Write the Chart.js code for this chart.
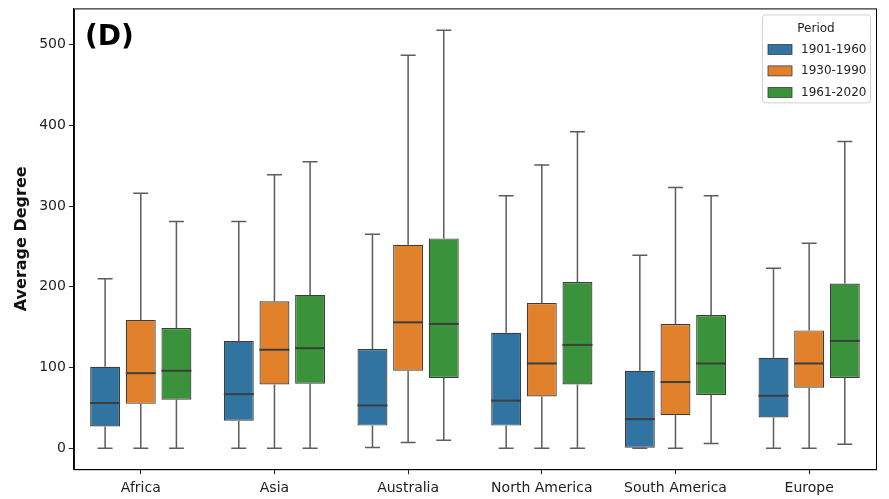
<!DOCTYPE html>
<html>
<head>
<meta charset="utf-8">
<script src="https://cdn.jsdelivr.net/npm/chart.js@4"></script>
<style>
  html, body { margin: 0; padding: 0; background: #fff; overflow: hidden; }
  #wrap { width: 889px; height: 499px; overflow: hidden; }
  #boxChart { display: block; margin-top: -3px; }
</style>
</head>
<body>
<div id="wrap"><canvas id="boxChart" width="889" height="508"></canvas></div>
<script>
const continents = ['Africa', 'Asia', 'Australia', 'North America', 'South America', 'Europe'];
const periods = ['1901-1960', '1930-1990', '1961-2020'];
const colors = ['#3274a1', '#e1812c', '#3a923a'];
const yTicks = [0, 100, 200, 300, 400, 500];

// box stats, one array per statistic and period
const min1901 = [0, 0, 1, 0, 0, 0];
const q1_1901 = [27, 34, 28, 28, 0, 38];
const med1901 = [56, 67, 53, 59, 36, 65];
const q3_1901 = [101, 133, 123, 143, 96, 112];
const max1901 = [210, 281, 265, 313, 239, 223];

const min1930 = [0, 0, 7, 0, 0, 0];
const q1_1930 = [55, 79, 96, 64, 41, 75];
const med1930 = [93, 122, 156, 105, 82, 105];
const q3_1930 = [159, 182, 252, 180, 154, 146];
const max1930 = [316, 339, 487, 351, 323, 254];

const min1961 = [0, 0, 10, 0, 6, 5];
const q1_1961 = [60, 80, 87, 79, 66, 87];
const med1961 = [96, 124, 154, 128, 105, 133];
const q3_1961 = [149, 190, 260, 206, 165, 204];
const max1961 = [281, 355, 518, 392, 313, 380];

const stats = [
  { min: min1901, q1: q1_1901, med: med1901, q3: q3_1901, max: max1901 },
  { min: min1930, q1: q1_1930, med: med1930, q3: q3_1930, max: max1930 },
  { min: min1961, q1: q1_1961, med: med1961, q3: q3_1961, max: max1961 }
];

const FONT = "'DejaVu Sans', sans-serif";

// whiskers, caps, medians, frame, panel letter and legend
const boxPlugin = {
  id: 'boxExtras',
  afterDatasetsDraw(chart) {
    const ctx = chart.ctx;
    const y = chart.scales.y;
    ctx.save();
    chart.data.datasets.forEach((ds, i) => {
      const s = stats[i];
      chart.getDatasetMeta(i).data.forEach((bar, j) => {
        const x = bar.x, w = bar.width;
        const pMin = y.getPixelForValue(s.min[j]);
        const pQ1 = y.getPixelForValue(s.q1[j]);
        const pQ3 = y.getPixelForValue(s.q3[j]);
        const pMax = y.getPixelForValue(s.max[j]);
        const pMed = y.getPixelForValue(s.med[j]);
        ctx.strokeStyle = '#5c5c5c';
        ctx.lineWidth = 1.5;
        ctx.beginPath();
        ctx.moveTo(x, pQ3); ctx.lineTo(x, pMax);
        ctx.moveTo(x, pQ1); ctx.lineTo(x, pMin);
        ctx.moveTo(x - w / 4, pMax); ctx.lineTo(x + w / 4, pMax);
        ctx.moveTo(x - w / 4, pMin); ctx.lineTo(x + w / 4, pMin);
        ctx.stroke();
        ctx.strokeStyle = '#3d3d3d';
        ctx.lineWidth = 2;
        ctx.beginPath();
        ctx.moveTo(x - w / 2, pMed); ctx.lineTo(x + w / 2, pMed);
        ctx.stroke();
      });
    });
    ctx.restore();
  },
  afterDraw(chart) {
    const ctx = chart.ctx;
    const a = chart.chartArea;
    ctx.save();
    // frame
    ctx.strokeStyle = '#000';
    ctx.lineWidth = 1;
    ctx.strokeRect(a.left + 0.5, a.top + 0.5, a.right - a.left, a.bottom - a.top);
    // panel letter
    ctx.fillStyle = '#000';
    ctx.font = 'bold 28px ' + FONT;
    ctx.textBaseline = 'alphabetic';
    ctx.textAlign = 'left';
    ctx.fillText('(D)', a.left + 11, a.top + 37);
    // legend
    const lx = a.right - 114, ly = a.top + 6, lw = 108, lh = 88;
    ctx.fillStyle = 'rgba(255,255,255,0.8)';
    ctx.strokeStyle = '#d0d0d0';
    ctx.beginPath();
    ctx.roundRect(lx + 0.5, ly + 0.5, lw, lh, 3);
    ctx.fill();
    ctx.stroke();
    ctx.fillStyle = '#222';
    ctx.font = '12px ' + FONT;
    ctx.textAlign = 'center';
    ctx.textBaseline = 'middle';
    ctx.fillText('Period', lx + lw / 2, ly + 14);
    ctx.textAlign = 'left';
    periods.forEach((p, i) => {
      const ry = ly + 35 + i * 21.5;
      ctx.fillStyle = colors[i];
      ctx.fillRect(lx + 6, ry - 5, 24, 10);
      ctx.strokeStyle = '#3d3d3d';
      ctx.lineWidth = 0.8;
      ctx.strokeRect(lx + 6, ry - 5, 24, 10);
      ctx.fillStyle = '#222';
      ctx.fillText(p, lx + 39, ry);
    });
    ctx.restore();
  }
};

new Chart(document.getElementById('boxChart'), {
  type: 'bar',
  data: {
    labels: continents,
    datasets: periods.map((p, i) => ({
      label: p,
      data: stats[i].q1.map((v, j) => [v, stats[i].q3[j]]),
      backgroundColor: colors[i],
      borderColor: '#3d3d3d',
      borderWidth: 1.2,
      borderSkipped: false,
      categoryPercentage: 0.8,
      barPercentage: 0.84
    }))
  },
  options: {
    responsive: false,
    animation: false,
    layout: { padding: { top: 6, right: 13, bottom: 2, left: 12 } },
    plugins: {
      legend: { display: false },
      tooltip: { enabled: false }
    },
    scales: {
      x: {
        grid: { drawOnChartArea: false, offset: false, tickLength: 5, color: '#222' },
        border: { color: '#000' },
        ticks: { color: '#222', font: { family: FONT, size: 14 }, padding: 6 },
      },
      y: {
        min: -26,
        max: 545,
        afterBuildTicks: axis => { axis.ticks = yTicks.map(v => ({ value: v })); },
        grid: { drawOnChartArea: false, tickLength: 5, color: '#222' },
        border: { color: '#000' },
        ticks: { color: '#222', font: { family: FONT, size: 14 }, padding: 3 },
        title: {
          display: true,
          text: 'Average Degree',
          color: '#111',
          font: { family: FONT, size: 16, weight: 'bold' },
          padding: { top: 0, bottom: 5 }
        }
      }
    }
  },
  plugins: [boxPlugin]
});
</script>
</body>
</html>
